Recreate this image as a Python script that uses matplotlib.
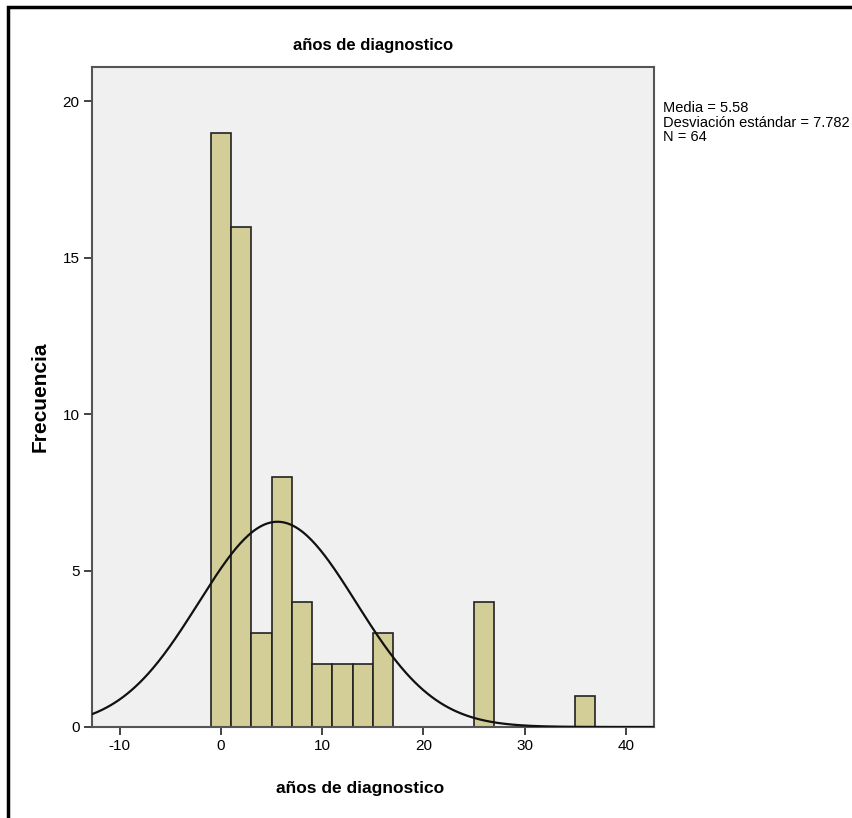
import matplotlib
matplotlib.use("Agg")
import matplotlib.pyplot as plt
import numpy as np
from matplotlib.patches import Rectangle

# histogram data (bin left edge, width 2)
bin_left = [-1, 1, 3, 5, 7, 9, 11, 13, 15, 25, 35]
counts = [19, 16, 3, 8, 4, 2, 2, 2, 3, 4, 1]
bin_width = 2
media = 5.58
desv = 7.782
n = 64
xticks = [-10, 0, 10, 20, 30, 40]
yticks = [0, 5, 10, 15, 20]

plt.rcParams['font.family'] = ['Liberation Sans', 'DejaVu Sans']
plt.rcParams['axes.unicode_minus'] = False

fig = plt.figure(figsize=(8.52, 8.18), dpi=100)
ax = fig.add_axes([92 / 852, 1 - 727 / 818, 562 / 852, 660 / 818])
ax.set_facecolor('#f0f0f0')

ax.bar(bin_left, counts, width=bin_width, align='edge', color='#d3ce97',
       edgecolor='#222222', linewidth=1.2, zorder=2)

# normal curve
xs = np.linspace(-12.75, 42.8, 400)
ys = n * bin_width / (desv * np.sqrt(2 * np.pi)) * np.exp(-0.5 * ((xs - media) / desv) ** 2)
ax.plot(xs, ys, color='#111111', lw=1.6, zorder=3)

ax.set_xlim(-12.75, 42.8)
ax.set_ylim(0, 21.1)
ax.set_xticks(xticks)
ax.set_yticks(yticks)
ax.tick_params(axis='both', direction='out', length=6, width=1.2, color='#222222',
               labelsize=11, pad=3)
for s in ax.spines.values():
    s.set_color('#555555')
    s.set_linewidth(1.5)

ax.set_title('años de diagnostico', fontsize=12, fontweight='bold', pad=12)
ax.set_xlabel('años de diagnostico', fontsize=12.5, fontweight='bold')
ax.xaxis.set_label_coords((360 - 92) / 562, (727 - 781) / 660)
ax.set_ylabel('Frecuencia', fontsize=15, fontweight='bold')
ax.yaxis.set_label_coords((50 - 92) / 562, 0.5)

fig.text(663 / 852, 1 - 101 / 818,
         'Media = %.2f\nDesviación estándar = %.3f\nN = %d' % (media, desv, n),
         fontsize=10.5, va='top', ha='left', linespacing=1.05)

# outer frame
fig.patches.append(Rectangle((8 / 852, -0.05), 1.2, 1 - 7 / 818 + 0.05,
                             transform=fig.transFigure, fill=False,
                             edgecolor='black', linewidth=2.5))

fig.savefig('out.png', dpi=100)
